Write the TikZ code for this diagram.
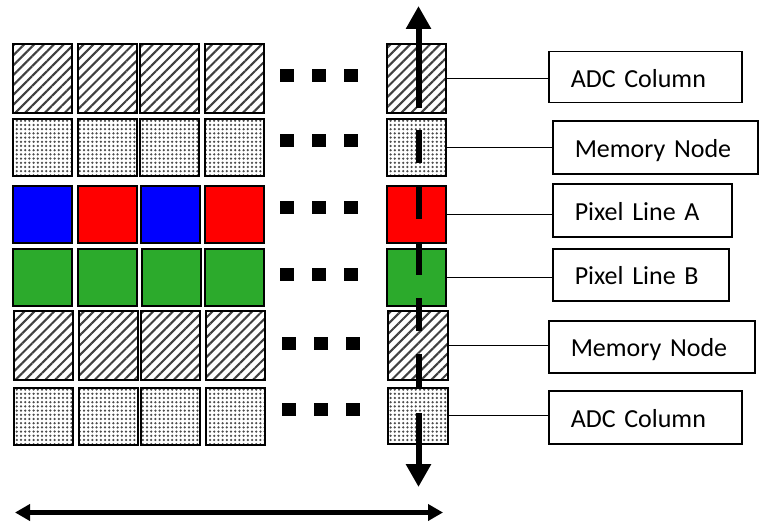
\documentclass[tikz,border=0pt]{standalone}
\usepackage{fontspec}
\setmainfont{Carlito}
\usetikzlibrary{patterns.meta,arrows.meta}
\definecolor{pgreen}{RGB}{44,170,44}
\definecolor{pblue}{RGB}{0,0,255}
\definecolor{pred}{RGB}{255,0,0}
\begin{document}
\begin{tikzpicture}[x=1pt,y=-1pt,
  cell/.style={draw=black,line width=1.6pt,inner sep=0pt,anchor=north west,minimum width=59pt,minimum height=57pt},
  hatchcell/.style={cell,minimum height=69pt,pattern={Lines[angle=45,distance=7pt,line width=2.1pt]},pattern color=black!75},
  dotcell/.style={cell,pattern={Dots[distance=4.2pt,radius=1.25pt]},pattern color=black!70},
  bluecell/.style={cell,fill=pblue},
  redcell/.style={cell,fill=pred},
  greencell/.style={cell,fill=pgreen},
  dotsq/.style={fill=black,minimum width=14pt,minimum height=13pt,inner sep=0pt},
  lbl/.style={draw=black,line width=1.5pt,inner xsep=22pt,inner ysep=0pt,anchor=north west,
    text height=20pt,text depth=0pt,align=left,font=\fontsize{26pt}{30pt}\selectfont},
  conn/.style={line width=1pt},
  bigarrow/.style={line width=6pt},
  bigtip/.style={-{Triangle[length=23pt,width=24pt]}}
]
\useasboundingbox (0,0) rectangle (762,524);
% row 1
\node[hatchcell] (c11) at (12,43) {};
\node[hatchcell] (c12) at (77,43) {};
\node[hatchcell] (c13) at (139,43) {};
\node[hatchcell] (c14) at (204,43) {};
\node[hatchcell] (c15) at (386,43) {};
% row 2
\node[dotcell] (c21) at (12,118) {};
\node[dotcell] (c22) at (77,118) {};
\node[dotcell] (c23) at (139,118) {};
\node[dotcell] (c24) at (204,118) {};
\node[dotcell] (c25) at (386,118) {};
% row 3
\node[bluecell] (c31) at (12,185) {};
\node[redcell] (c32) at (77,185) {};
\node[bluecell] (c33) at (140,185) {};
\node[redcell] (c34) at (204,185) {};
\node[redcell] (c35) at (386,185) {};
% row 4
\node[greencell] (c41) at (12,248) {};
\node[greencell] (c42) at (77,248) {};
\node[greencell] (c43) at (141,248) {};
\node[greencell] (c44) at (204,248) {};
\node[greencell] (c45) at (386,248) {};
% row 5
\node[hatchcell] (c51) at (13,310) {};
\node[hatchcell] (c52) at (78,310) {};
\node[hatchcell] (c53) at (140,310) {};
\node[hatchcell] (c54) at (205,310) {};
\node[hatchcell,minimum width=60pt] (c55) at (387,310) {};
% row 6
\node[dotcell] (c61) at (13,387) {};
\node[dotcell] (c62) at (78,387) {};
\node[dotcell] (c63) at (140,387) {};
\node[dotcell] (c64) at (205,387) {};
\node[dotcell,minimum width=60pt,minimum height=56pt] (c65) at (387,387) {};
% ellipsis squares
\foreach \r/\y in {1/75.5,2/140.5,3/207.5,4/274.5}{
  \node[dotsq] (d\r a) at (287,\y) {};
  \node[dotsq] (d\r b) at (319,\y) {};
  \node[dotsq] (d\r c) at (351,\y) {};
}
\foreach \r/\y in {5/343.5,6/409.5}{
  \node[dotsq] (d\r a) at (289,\y) {};
  \node[dotsq] (d\r b) at (321,\y) {};
  \node[dotsq] (d\r c) at (353,\y) {};
}
% labels
\node[lbl,text width=149pt,minimum height=51pt] (A1) at (548,51) {ADC Column};
\node[lbl,text width=161pt,minimum height=53pt] (M1) at (552,120) {Memory Node};
\node[lbl,text width=135pt,minimum height=53pt] (PA) at (552,183) {Pixel Line A};
\node[lbl,text width=132pt,minimum height=52pt] (PB) at (552,248) {Pixel Line B};
\node[lbl,text width=162pt,minimum height=52pt] (M2) at (548,320) {Memory Node};
\node[lbl,text width=149pt,minimum height=53pt] (A2) at (548,390) {ADC Column};
% connectors
\draw[conn] (c15.east) -- (c15.east -| A1.west);
\draw[conn] (c25.east) -- (c25.east -| M1.west);
\draw[conn] (c35.east) -- (c35.east -| PA.west);
\draw[conn] (c45.east) -- (c45.east -| PB.west);
\draw[conn] (c55.east) -- (c55.east -| M2.west);
\draw[conn] (c65.east) -- (c65.east -| A2.west);
% vertical dashed double arrow
\coordinate (vt) at (418.5,6);
\coordinate (vt0) at (418.5,108);
\coordinate (vm1) at (418.5,130);
\coordinate (vm2) at (418.5,387);
\coordinate (vb0) at (418.5,413);
\coordinate (vb) at (418.5,487);
\draw[bigarrow,bigtip] (vt0) -- (vt);
\draw[bigarrow,dash pattern=on 33pt off 23pt] (vm1) -- (vm2);
\draw[bigarrow,bigtip] (vb0) -- (vb);
% horizontal double arrow
\coordinate (hl) at (15,512.5);
\coordinate (hr) at (443,512.5);
\draw[line width=5pt,{Triangle[length=15pt,width=16pt]}-{Triangle[length=15pt,width=16pt]}] (hl) -- (hr);
\end{tikzpicture}
\end{document}
